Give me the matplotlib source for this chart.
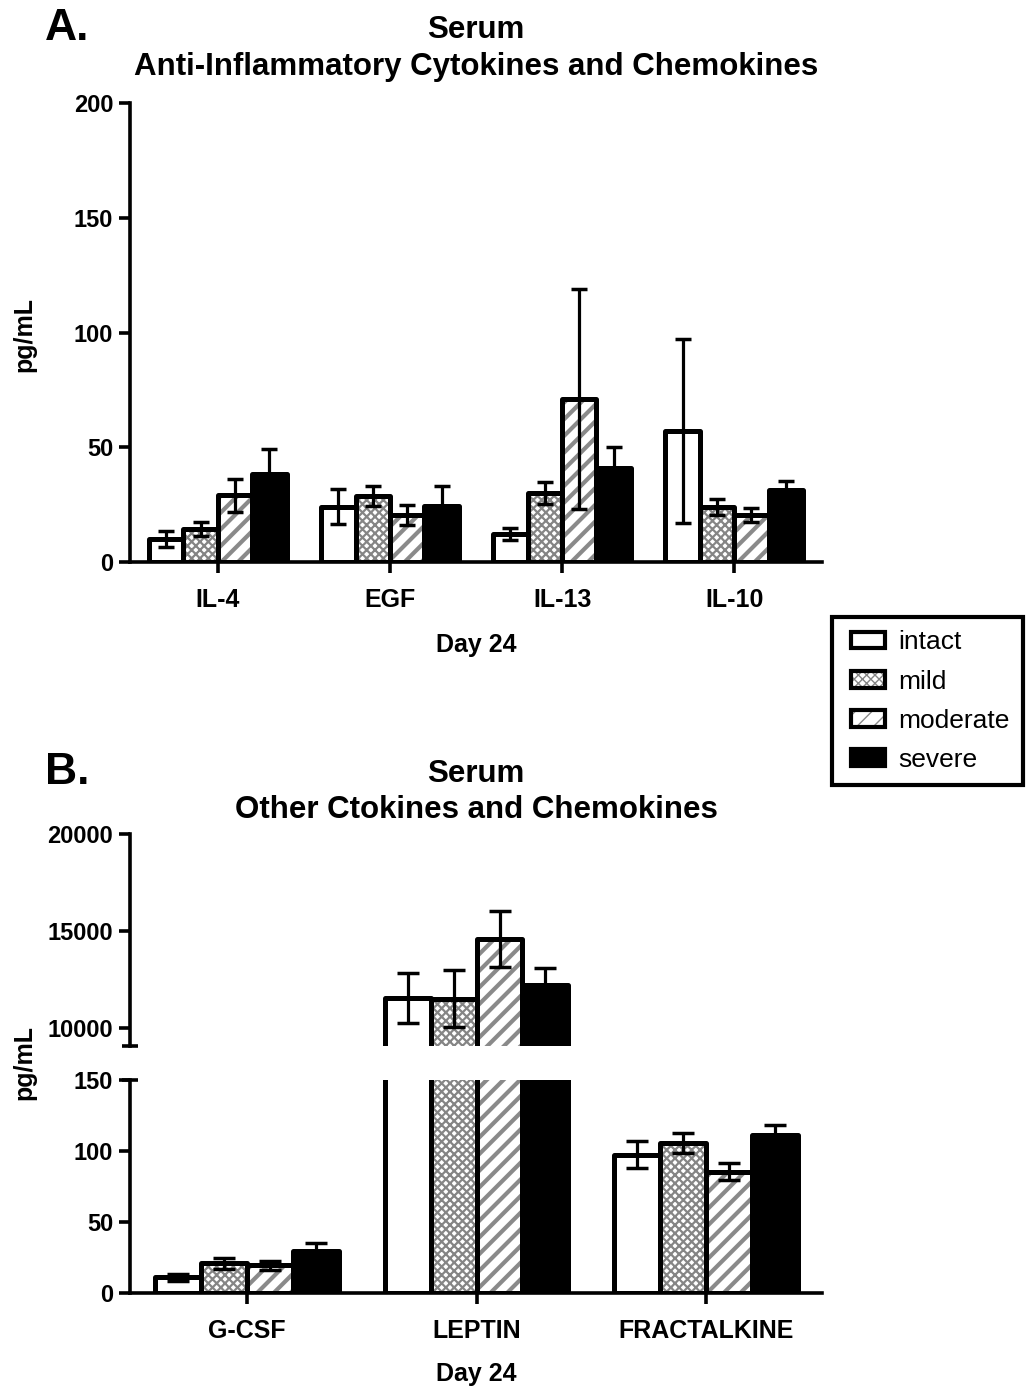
import numpy as np
import matplotlib
matplotlib.use('Agg')
from matplotlib import pyplot as plt
from matplotlib.patches import Patch, Rectangle
from matplotlib.legend_handler import HandlerTuple, HandlerPatch

plt.rcParams['font.family'] = ['Liberation Sans', 'DejaVu Sans']

W, H = 1027, 1389

groups = ['intact', 'mild', 'moderate', 'severe']

# panel A: anti-inflammatory cytokines (pg/mL)
cyto_a = ['IL-4', 'EGF', 'IL-13', 'IL-10']
intact_a = [10, 24, 12, 57]
intact_a_err = [3.3, 7.6, 2.6, 40]
mild_a = [14.5, 28.8, 30, 24]
mild_a_err = [3, 4.4, 4.8, 3.5]
moderate_a = [29, 20.5, 71, 20.5]
moderate_a_err = [7, 4.2, 48, 3]
severe_a = [38.5, 24.5, 41, 31.5]
severe_a_err = [10.7, 8.5, 9, 4]

# panel B: other cytokines (pg/mL)
cyto_b = ['G-CSF', 'LEPTIN', 'FRACTALKINE']
intact_b = [11, 11580, 97.5]
intact_b_err = [2.5, 1290, 9.5]
mild_b = [21, 11530, 105.5]
mild_b_err = [4, 1460, 7]
moderate_b = [19.5, 14620, 85.5]
moderate_b_err = [3, 1440, 6]
severe_b = [29.5, 12250, 111]
severe_b_err = [6, 880, 7]

# fill style per group: (face, hatch, hatch colour, hatch width)
styles = {
    'intact': ('white', None, None, 0),
    'mild': ('white', 'xxxx', '#858585', 1.6),
    'moderate': ('white', '//', '#8a8a8a', 3.0),
    'severe': ('black', None, None, 0),
}

EDGE_LW = 3.6
AX_LW = 2.6


def draw_groups(ax, means, errs, width=0.2, capsize=6):
    x = np.arange(len(means[0]))
    for k, g in enumerate(groups):
        xs = x + (k - 1.5) * width
        face, hatch, hcol, hlw = styles[g]
        if hatch:
            with plt.rc_context({'hatch.linewidth': hlw}):
                ax.bar(xs, means[k], width, color=face, edgecolor=hcol,
                       hatch=hatch, linewidth=0, zorder=2)
            ax.bar(xs, means[k], width, facecolor='none', edgecolor='black',
                   linewidth=EDGE_LW, joinstyle='round', zorder=3)
        else:
            ax.bar(xs, means[k], width, facecolor=face, edgecolor='black',
                   linewidth=EDGE_LW, joinstyle='round', zorder=3)
    for k, g in enumerate(groups):
        xs = x + (k - 1.5) * width
        ax.errorbar(xs, means[k], yerr=errs[k], fmt='none', ecolor='black',
                    elinewidth=2.3, capsize=capsize, capthick=2.5, zorder=5)


def style_axis(ax):
    for s in ['top', 'right']:
        ax.spines[s].set_visible(False)
    for s in ['left', 'bottom']:
        ax.spines[s].set_linewidth(AX_LW)
    ax.tick_params(axis='y', length=8, width=AX_LW, pad=4, labelsize=17)
    ax.tick_params(axis='x', length=8, width=AX_LW, pad=11, labelsize=18)
    for lab in ax.get_yticklabels() + ax.get_xticklabels():
        lab.set_fontweight('bold')


fig = plt.figure(figsize=(W / 100, H / 100), dpi=100)

# ---- panel A
axA = fig.add_axes([130 / W, 1 - 562 / H, 692 / W, 459 / H])
draw_groups(axA, [intact_a, mild_a, moderate_a, severe_a],
            [intact_a_err, mild_a_err, moderate_a_err, severe_a_err])
axA.set_xlim(-0.51, len(cyto_a) - 0.49)
axA.set_ylim(0, 200)
axA.set_yticks([0, 50, 100, 150, 200])
axA.set_xticks(np.arange(len(cyto_a)))
axA.set_xticklabels(cyto_a)
style_axis(axA)

# ---- panel B (broken y axis)
axBt = fig.add_axes([130 / W, 1 - 1046 / H, 692 / W, 212 / H])
axBb = fig.add_axes([130 / W, 1 - 1293 / H, 692 / W, 213 / H])
for ax in (axBt, axBb):
    draw_groups(ax, [intact_b, mild_b, moderate_b, severe_b],
                [intact_b_err, mild_b_err, moderate_b_err, severe_b_err],
                capsize=8)
    ax.set_xlim(-0.51, len(cyto_b) - 0.495)
axBt.set_ylim(9100, 20000)
axBt.set_yticks([10000, 15000, 20000])
axBb.set_ylim(0, 150)
axBb.set_yticks([0, 50, 100, 150])
axBb.set_xticks(np.arange(len(cyto_b)))
axBb.set_xticklabels(cyto_b)
style_axis(axBt)
style_axis(axBb)
axBt.spines['bottom'].set_visible(False)
axBt.tick_params(axis='x', bottom=False, labelbottom=False)
axBt.plot([-0.012, 0.012], [0, 0], transform=axBt.transAxes, color='black',
          lw=AX_LW, clip_on=False, solid_capstyle='butt')
axBb.plot([-0.012, 0.012], [1, 1], transform=axBb.transAxes, color='black',
          lw=AX_LW, clip_on=False, solid_capstyle='butt')

# ---- texts
cx = (130 + 346) / W
fig.text(cx, 1 - 30 / H, 'Serum', ha='center', va='center', fontsize=22.5, fontweight='bold')
fig.text(cx, 1 - 67 / H, 'Anti-Inflammatory Cytokines and Chemokines', ha='center',
         va='center', fontsize=22.5, fontweight='bold')
fig.text(cx, 1 - 774 / H, 'Serum', ha='center', va='center', fontsize=22.5, fontweight='bold')
fig.text(cx, 1 - 810 / H, 'Other Ctokines and Chemokines', ha='center',
         va='center', fontsize=22.5, fontweight='bold')
fig.text(45 / W, 1 - 29 / H, 'A.', ha='left', va='center', fontsize=32, fontweight='bold')
fig.text(45 / W, 1 - 772 / H, 'B.', ha='left', va='center', fontsize=32, fontweight='bold')
fig.text(cx, 1 - 645 / H, 'Day 24', ha='center', va='center', fontsize=18, fontweight='bold')
fig.text(cx, 1 - 1374 / H, 'Day 24', ha='center', va='center', fontsize=18, fontweight='bold')
fig.text(24 / W, 1 - 334 / H, 'pg/mL', ha='center', va='center', rotation=90,
         fontsize=18, fontweight='bold')
fig.text(24 / W, 1 - 1063 / H, 'pg/mL', ha='center', va='center', rotation=90,
         fontsize=18, fontweight='bold')


# ---- legend (handles shifted right a little inside their box)
SHIFT = 4


def shifted_box(legend, orig_handle, xdescent, ydescent, width, height, fontsize):
    return Rectangle((-xdescent + SHIFT, -ydescent), width - SHIFT, height)


handles = []
for g in groups:
    face, hatch, hcol, hlw = styles[g]
    if hatch:
        handles.append((Patch(facecolor=face, edgecolor=hcol, hatch=hatch, linewidth=0),
                        Patch(facecolor='none', edgecolor='black', linewidth=3, joinstyle='round')))
    else:
        handles.append(Patch(facecolor=face, edgecolor='black', linewidth=3, joinstyle='round'))
leg = fig.legend(handles, groups, loc='upper left',
                 bbox_to_anchor=(832 / W, 1 - 617 / H), bbox_transform=fig.transFigure,
                 handler_map={tuple: HandlerTuple(ndivide=1),
                              Patch: HandlerPatch(patch_func=shifted_box)},
                 frameon=True, fancybox=False, edgecolor='black', framealpha=1,
                 fontsize=19, handlelength=1.5, handleheight=0.6, handletextpad=0.5,
                 labelspacing=0.58, borderpad=0.5, borderaxespad=0)
leg.get_frame().set_linewidth(3)

fig.savefig('out.png', dpi=100)
